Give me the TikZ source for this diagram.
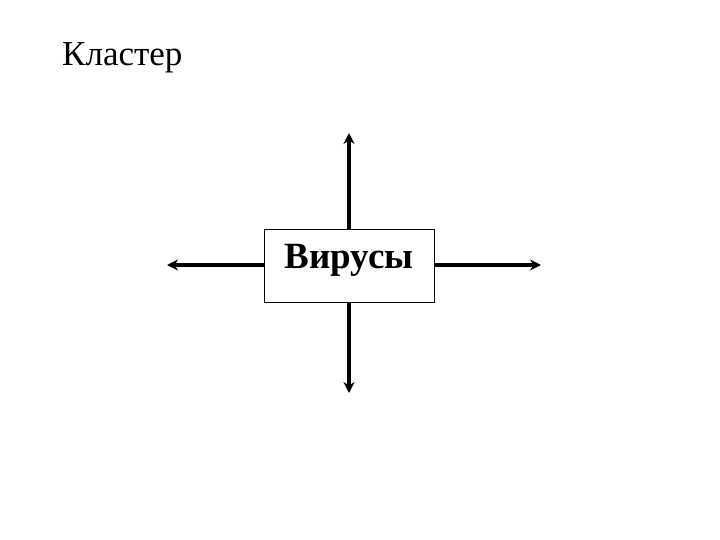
\documentclass[tikz,border=0pt]{standalone}
\usepackage{fontspec}
\setmainfont{Liberation Serif}
\usetikzlibrary{arrows.meta}
\begin{document}
\begin{tikzpicture}[x=1pt,y=1pt,
  conn/.style={line width=3.2pt,-{Stealth[length=11pt,width=11pt]}},
  box/.style={draw,line width=1pt,minimum width=170pt,minimum height=72pt,inner sep=0pt,font=\fontsize{37}{40}\selectfont\bfseries}]
\useasboundingbox (0,0) rectangle (720,-540);
\node[anchor=base west,font=\fontsize{35}{40}\selectfont,inner sep=0pt] (title) at (62,-66) {Кластер};
\node[box,text height=38pt,text depth=34pt] (v) at (349,-266) {Вирусы};
\coordinate (up) at (349,-133);
\coordinate (down) at (349,-393);
\coordinate (left) at (167,-265);
\coordinate (right) at (541,-265);
\draw[conn] (v.north) -- (up);
\draw[conn] (v.south) -- (down);
\draw[conn] (v.west |- left) -- (left);
\draw[conn] (v.east |- right) -- (right);
\end{tikzpicture}
\end{document}
